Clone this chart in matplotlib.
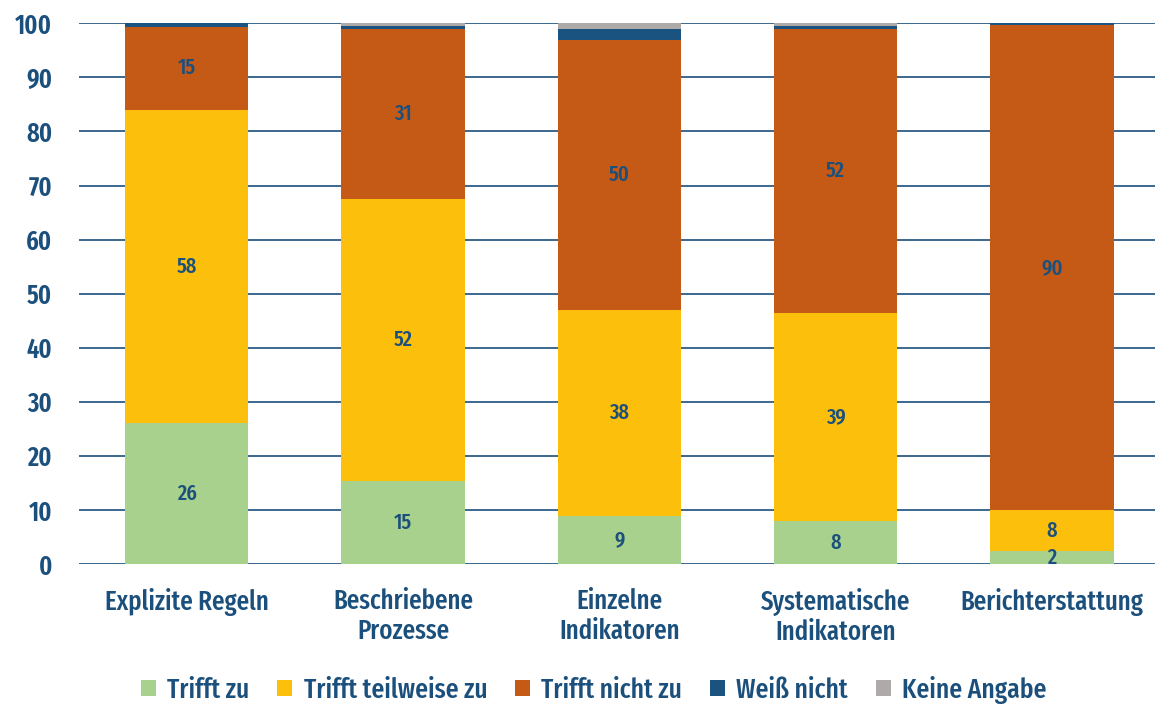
import matplotlib
matplotlib.use("Agg")
import matplotlib.pyplot as plt
from matplotlib import font_manager
import numpy as np

categories = ["Explizite Regeln", "Beschriebene\nProzesse", "Einzelne\nIndikatoren",
              "Systematische\nIndikatoren", "Berichterstattung"]
series_names = ["Trifft zu", "Trifft teilweise zu", "Trifft nicht zu", "Weiß nicht", "Keine Angabe"]
trifft_zu = [26.1, 15.4, 8.9, 7.9, 2.4]
trifft_teilweise = [57.9, 52.1, 38.1, 38.6, 7.6]
trifft_nicht = [15.4, 31.4, 49.9, 52.4, 89.6]
weiss_nicht = [0.6, 0.6, 2.0, 0.6, 0.4]
keine_angabe = [0.0, 0.5, 1.1, 0.5, 0.0]
yticks = [0, 10, 20, 30, 40, 50, 60, 70, 80, 90, 100]

colors = ["#A9D18E", "#FCBF0C", "#C55A17", "#1B5380", "#AEAAAA"]
text_color = "#1B4F7C"

names = {f.name for f in font_manager.fontManager.ttflist}
cond = "Fira Sans Extra Condensed" if "Fira Sans Extra Condensed" in names else "DejaVu Sans"

fig = plt.figure(figsize=(11.55, 7.06), dpi=100)
ax = fig.add_axes([0.068, 0.201, 0.932, 0.766])

series = [trifft_zu, trifft_teilweise, trifft_nicht, weiss_nicht, keine_angabe]
x = np.arange(len(categories))
bottom = np.zeros(len(categories))
for i, (vals, name) in enumerate(zip(series, series_names)):
    vals = np.array(vals)
    ax.bar(x, vals, 0.57, bottom=bottom, color=colors[i], label=name, zorder=3)
    if i < 3:
        for xi, b, v in zip(x, bottom, vals):
            ax.text(xi, b + v / 2, f"{v:.0f}", ha="center", va="center",
                    color=text_color, fontsize=16, family=cond, fontweight="medium", zorder=4)
    bottom += vals

ax.set_xlim(-0.5, 4.476)
ax.set_ylim(0, 100)
ax.set_yticks(yticks)
ax.set_yticklabels([str(t) for t in yticks], fontsize=19, fontweight="semibold",
                   color=text_color, family=cond)
ax.yaxis.grid(True, color="#1B4F7C", linewidth=1.2, zorder=0)
ax.set_xticks(x)
ax.set_xticklabels(categories, fontsize=19.5, color=text_color, family=cond,
                   fontweight="medium", linespacing=1.15)
ax.tick_params(axis="x", length=0, pad=17)
ax.tick_params(axis="y", length=0, pad=19)
for s in ax.spines.values():
    s.set_visible(False)

leg = fig.legend(loc="center", bbox_to_anchor=(0.514, 0.023), ncol=5, frameon=False,
                 prop={"family": cond, "size": 20, "weight": "medium"},
                 handlelength=0.55, handleheight=0.55,
                 handletextpad=0.4, columnspacing=1.0)
for t in leg.get_texts():
    t.set_color(text_color)

fig.savefig("out.png", dpi=100)
